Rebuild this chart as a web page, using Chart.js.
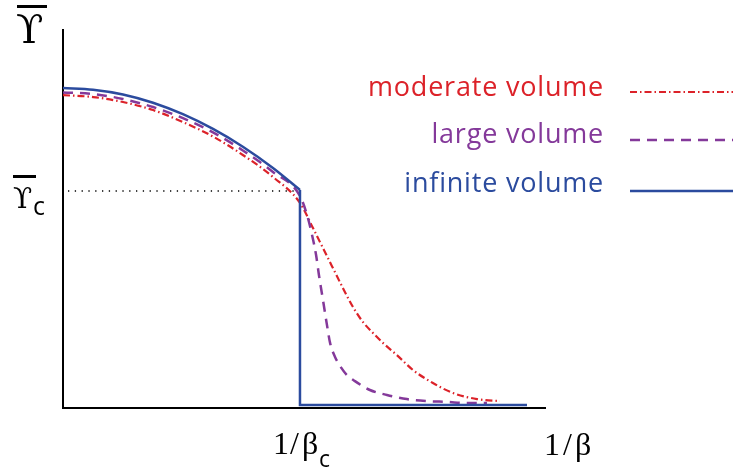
<!DOCTYPE html>
<html>
<head>
<meta charset="utf-8">
<script src="https://cdn.jsdelivr.net/npm/chart.js@4"></script>
<style>
  html, body { margin:0; padding:0; background:#fff; }
  canvas { display:block; }
</style>
</head>
<body>
<canvas id="chart" width="736" height="470"></canvas>
<script>
// x in units of 1/beta_c, y in units of Upsilon_c
const seriesNames = ['moderate volume', 'large volume', 'infinite volume'];
const seriesColors = ['#dc2229', '#84399a', '#2b4b9e'];

// infinite volume: smooth branch, then the jump and the flat tail
const infiniteX = [0, 0.127, 0.253, 0.380, 0.506, 0.633, 0.759, 0.886, 1.0];
const infiniteY = [1.475, 1.467, 1.445, 1.407, 1.354, 1.286, 1.204, 1.106, 1.005];
const jumpX = [1.0, 1.0, 1.958];
const jumpY = [1.005, 0.014, 0.014];

const largeX = [0, 0.127, 0.253, 0.380, 0.506, 0.633, 0.759, 0.886, 1.0, 1.030, 1.051, 1.068, 1.080, 1.097, 1.114, 1.127, 1.148, 1.169, 1.198, 1.232, 1.295, 1.367, 1.451, 1.536, 1.620, 1.705, 1.789];
const largeY = [1.454, 1.447, 1.424, 1.387, 1.336, 1.270, 1.187, 1.088, 0.977, 0.889, 0.797, 0.705, 0.613, 0.498, 0.382, 0.300, 0.235, 0.194, 0.152, 0.124, 0.083, 0.060, 0.041, 0.032, 0.028, 0.023, 0.023];

const moderateX = [0, 0.127, 0.253, 0.380, 0.506, 0.633, 0.759, 0.886, 1.0, 1.055, 1.097, 1.139, 1.181, 1.224, 1.266, 1.308, 1.350, 1.409, 1.477, 1.561, 1.646, 1.747, 1.844];
const moderateY = [1.442, 1.433, 1.410, 1.373, 1.318, 1.251, 1.166, 1.065, 0.945, 0.829, 0.737, 0.645, 0.553, 0.465, 0.396, 0.346, 0.300, 0.244, 0.175, 0.115, 0.069, 0.041, 0.032];

const criticalX = [0.021, 1.0];
const criticalY = [1.0, 1.0];

const pts = (xs, ys) => xs.map((x, i) => ({x: x, y: ys[i]}));

const dashes = [[7, 3, 1.5, 3], [10, 7], []];
const widths = [2.2, 2.5, 2.5];

const labelsPlugin = {
  id: 'labels',
  afterDraw(chart) {
    const c = chart.ctx;
    c.save();
    c.fillStyle = '#000';
    c.textBaseline = 'alphabetic';
    // y axis label: upsilon bar
    c.font = '40px "DejaVu Serif"';
    c.fillText('ϒ', 16, 43);
    c.fillRect(17, 5, 30, 3);
    // upsilon_c
    c.font = '28px "DejaVu Serif"';
    c.fillText('ϒ', 13, 208);
    c.fillRect(13, 175, 23, 3);
    c.font = '25px "Open Sans"';
    c.fillText('c', 33, 215);
    // x labels
    c.font = '32px "Liberation Serif"';
    c.fillText('1', 273, 454);
    c.fillText('/', 290, 454);
    c.fillText('β', 302, 454);
    c.fillText('1', 544, 455);
    c.fillText('/', 563, 455);
    c.fillText('β', 575, 455);
    c.font = '23px "Open Sans"';
    c.fillText('c', 319, 467);
    // legend
    const ys = [96, 143, 192];
    const ly = [92, 140, 191];
    c.font = '27px "Open Sans"';
    c.letterSpacing = '0.8px';
    c.textAlign = 'right';
    seriesNames.forEach((n, i) => {
      c.fillStyle = seriesColors[i];
      c.fillText(n, 604, ys[i]);
      c.beginPath();
      c.strokeStyle = seriesColors[i];
      c.lineWidth = widths[i];
      c.setLineDash(dashes[i]);
      c.moveTo(630, ly[i]);
      c.lineTo(733, ly[i]);
      c.stroke();
    });
    c.restore();
  }
};

new Chart(document.getElementById('chart'), {
  type: 'line',
  data: {
    datasets: [
      {label: seriesNames[2], data: pts(infiniteX, infiniteY), borderColor: seriesColors[2], borderWidth: widths[2], cubicInterpolationMode: 'monotone'},
      {label: 'jump', data: pts(jumpX, jumpY), borderColor: seriesColors[2], borderWidth: widths[2], tension: 0},
      {label: seriesNames[1], data: pts(largeX, largeY), borderColor: seriesColors[1], borderWidth: widths[1], borderDash: dashes[1], cubicInterpolationMode: 'monotone'},
      {label: seriesNames[0], data: pts(moderateX, moderateY), borderColor: seriesColors[0], borderWidth: widths[0], borderDash: dashes[0], cubicInterpolationMode: 'monotone'},
      {label: 'critical', data: pts(criticalX, criticalY), borderColor: '#000', borderWidth: 1.3, borderDash: [1.3, 5.5]}
    ]
  },
  options: {
    responsive: false,
    animation: false,
    layout: {padding: {left: 63, top: 30, right: 191, bottom: 62}},
    elements: {point: {radius: 0}},
    plugins: {legend: {display: false}, tooltip: {enabled: false}},
    scales: {
      x: {type: 'linear', min: 0, max: 2.034, grid: {display: false}, ticks: {display: false},
          border: {display: true, color: '#000', width: 2}, afterFit: s => { s.height = 0; }},
      y: {type: 'linear', min: 0, max: 1.742, grid: {display: false}, ticks: {display: false},
          border: {display: true, color: '#000', width: 2}, afterFit: s => { s.width = 0; }}
    }
  },
  plugins: [labelsPlugin]
});
</script>
</body>
</html>
